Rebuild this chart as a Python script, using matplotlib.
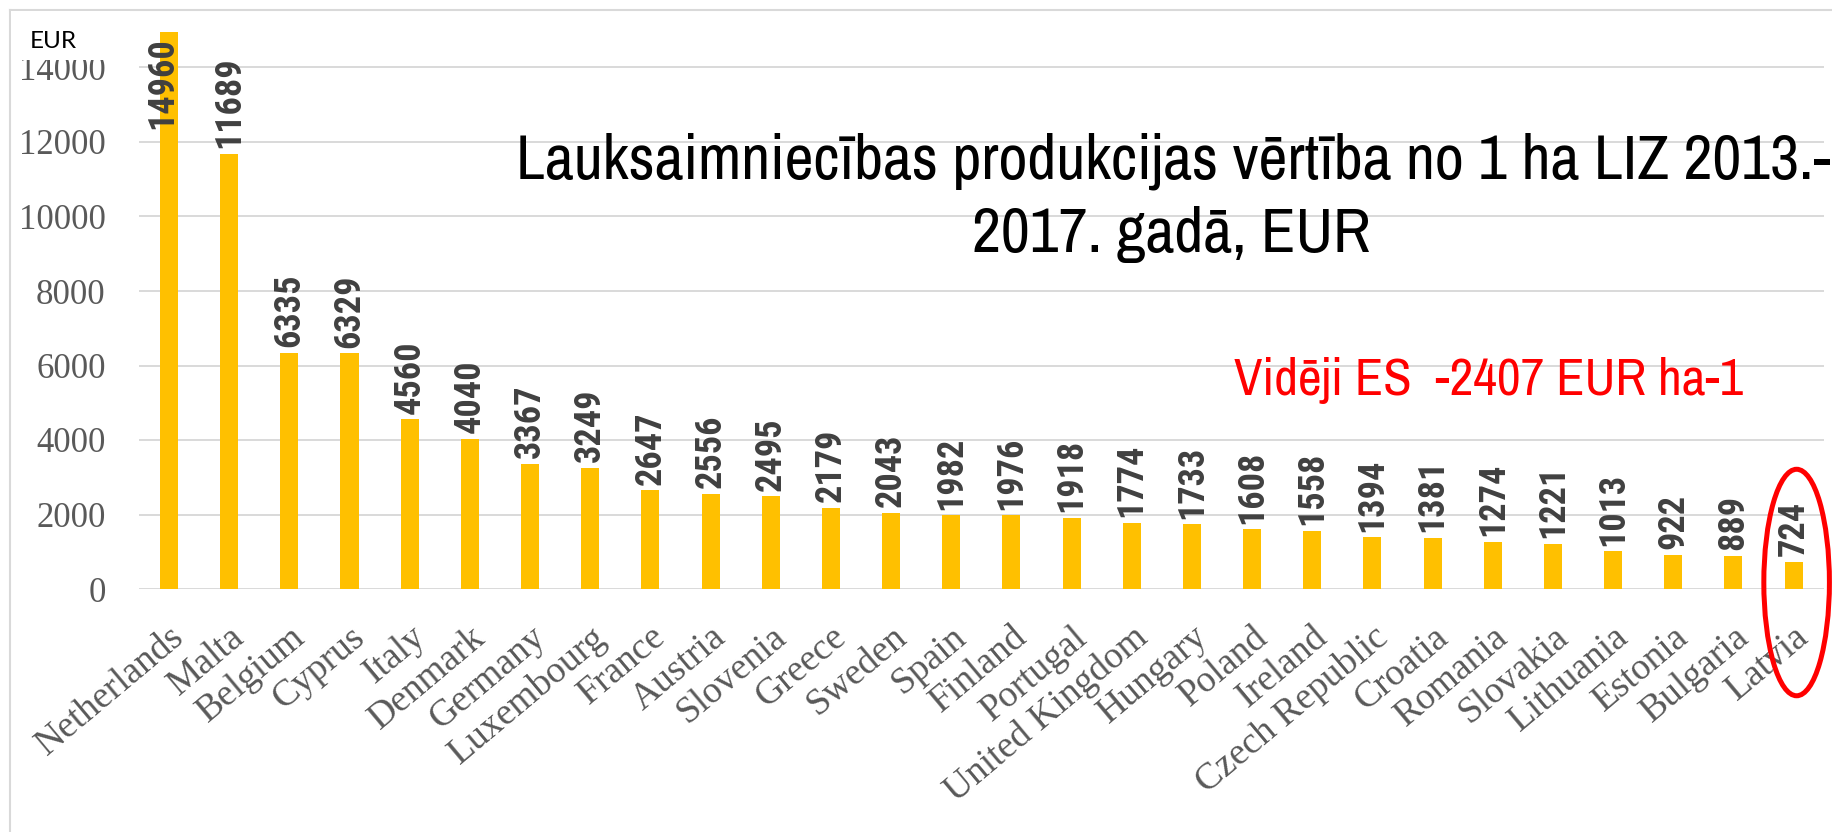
import matplotlib
matplotlib.use("Agg")
import matplotlib.pyplot as plt
from matplotlib.patches import Ellipse, Rectangle
from matplotlib.lines import Line2D
from matplotlib import font_manager as fm

countries = ["Netherlands", "Malta", "Belgium", "Cyprus", "Italy", "Denmark", "Germany",
             "Luxembourg", "France", "Austria", "Slovenia", "Greece", "Sweden", "Spain",
             "Finland", "Portugal", "United Kingdom", "Hungary", "Poland", "Ireland",
             "Czech Republic", "Croatia", "Romania", "Slovakia", "Lithuania", "Estonia",
             "Bulgaria", "Latvia"]
values = [14960, 11689, 6335, 6329, 4560, 4040, 3367, 3249, 2647, 2556, 2495, 2179, 2043,
          1982, 1976, 1918, 1774, 1733, 1608, 1558, 1394, 1381, 1274, 1221, 1013, 922, 889, 724]
yticks = [0, 2000, 4000, 6000, 8000, 10000, 12000, 14000]
title_lines = ["Lauksaimniecības produkcijas vērtība no 1 ha LIZ 2013.-", "2017. gadā, EUR"]
note_text = "Vidēji ES  -2407 EUR ha-1"
unit_text = "EUR"
highlight = "Latvia"

# ---- font selection (narrow sans like Arial Narrow) ----
entries = fm.fontManager.ttflist
names = {f.name for f in entries}


def pick(prefs, bold=False):
    for p in prefs:
        if p not in names:
            continue
        if not bold:
            return p
        for f in entries:
            if f.name == p and str(f.weight) in ("700", "bold") and "[" not in f.fname:
                return p
    return "DejaVu Sans"


narrow_reg = pick(["Liberation Sans Narrow", "Arial Narrow", "Archivo Narrow", "Roboto Condensed",
                   "PT Sans Narrow", "Fira Sans Condensed", "IBM Plex Sans Condensed", "Open Sans Condensed"])
narrow_bold = pick(["Liberation Sans Narrow", "Arial Narrow", "Roboto Condensed", "Archivo Narrow",
                    "PT Sans Narrow", "Fira Sans Condensed", "IBM Plex Sans Condensed", "Open Sans Condensed"],
                   bold=True)
serif = "Liberation Serif" if "Liberation Serif" in names else "DejaVu Serif"
unit_font = "Lato" if "Lato" in names else "DejaVu Sans"

W, H = 1833, 832
fig = plt.figure(figsize=(W / 100, H / 100), dpi=100)
fig.patch.set_facecolor("white")
renderer = fig.canvas.get_renderer()


def fit_size(text, family, weight, target_px, ref=20):
    t = fig.text(0, 0, text, fontsize=ref, family=[family, "DejaVu Sans"], fontweight=weight)
    w = t.get_window_extent(renderer).width
    t.remove()
    return ref * target_px / w


ax_left, ax_right = 138.9, 1823.7
ax_bottom_px, ax_h_px = 243, 596
ax = fig.add_axes([ax_left / W, ax_bottom_px / H, (ax_right - ax_left) / W, ax_h_px / H])

x = list(range(len(countries)))
ax.bar(x, values, width=0.30, color="#FFC000", zorder=2)
ax.set_xlim(-0.5, len(countries) - 0.5)
ax.set_ylim(0, 16000)
ax.set_yticks(yticks)
ax.set_yticklabels([str(v) for v in yticks], fontfamily=serif, fontsize=25, color="#595959")
ax.yaxis.grid(True, color="#D9D9D9", lw=1.4, zorder=0)
ax.set_axisbelow(True)
for s in ax.spines.values():
    s.set_visible(False)
ax.tick_params(axis="y", length=0, pad=24)
ax.tick_params(axis="x", length=0, pad=22)
ax.set_xticks(x)
ax.set_xticklabels(countries, fontfamily=serif, fontsize=27, color="#595959",
                   rotation=40, ha="right", va="top", rotation_mode="anchor")

# data labels
lab_size = fit_size("00000", narrow_bold, "bold", 5 * 16.3) * 1.12
lab_fam = [narrow_bold, "DejaVu Sans"]
for xi, v in zip(x, values):
    if v > 13500:
        ax.annotate(str(v), (xi, v), xytext=(-5, -4), textcoords="offset points",
                    rotation=90, ha="center", va="top", fontsize=lab_size, fontweight="bold",
                    color="#404040", family=lab_fam, zorder=3)
    else:
        ax.annotate(str(v), (xi, v), xytext=(0, 4), textcoords="offset points",
                    rotation=90, ha="center", va="bottom", fontsize=lab_size, fontweight="bold",
                    color="#404040", family=lab_fam, zorder=3)

# highlight ellipse around Latvia
li = countries.index(highlight)
ax.add_patch(Ellipse((li + 0.05, values[li] - 550), width=1.09, height=6080, fill=False,
                     edgecolor="#FF0000", lw=3.6, clip_on=False, zorder=4))

# chart border (left and top)
fig.add_artist(Line2D([10 / W, 10 / W], [0, 1 - 10 / H], color="#D9D9D9", lw=1.5))
fig.add_artist(Line2D([10 / W, 1], [1 - 10 / H, 1 - 10 / H], color="#D9D9D9", lw=1.5))

# unit label on white box
fig.add_artist(Rectangle((11 / W, 1 - 60 / H), 119 / W, 49 / H, transform=fig.transFigure,
                         facecolor="white", edgecolor="none", zorder=5))
fig.text(30 / W, 1 - 48 / H, unit_text, fontsize=17.5, family=[unit_font, "DejaVu Sans"], color="black",
         va="baseline", ha="left", zorder=6)

# title
title_size = fit_size(title_lines[0], narrow_reg, "normal", 1316)
fig.text(1173 / W, 1 - 178 / H, title_lines[0], fontsize=title_size, family=[narrow_reg, "DejaVu Sans"],
         color="black", ha="center", va="baseline", zorder=6)
fig.text(1171 / W, 1 - 252 / H, title_lines[1], fontsize=title_size, family=[narrow_reg, "DejaVu Sans"],
         color="black", ha="center", va="baseline", zorder=6)

# note
note_size = fit_size(note_text, narrow_reg, "normal", 510)
fig.text(1234 / W, 1 - 395 / H, note_text, fontsize=note_size, family=[narrow_reg, "DejaVu Sans"],
         color="#FF0000", ha="left", va="baseline", zorder=6)

fig.savefig("out.png", dpi=100, facecolor="white")
